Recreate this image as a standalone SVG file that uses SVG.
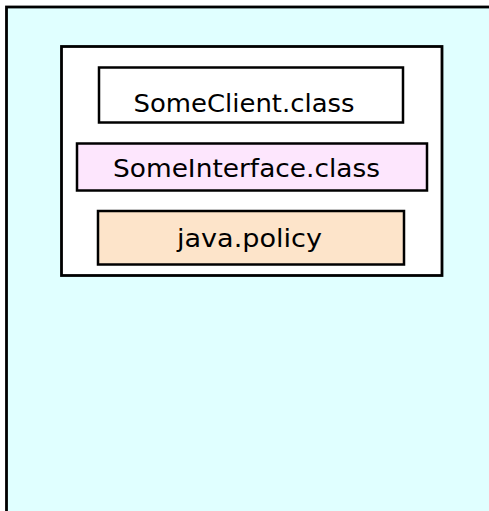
<svg xmlns="http://www.w3.org/2000/svg" width="489" height="511" viewBox="0 0 489 511">
  <style>
    .frame { stroke: #000; stroke-width: 2.8; }
    .box { stroke: #000; stroke-width: 2.5; }
    .label { font-family: "DejaVu Sans", "Liberation Sans", sans-serif; font-size: 24px; fill: #000; text-anchor: middle; }
  </style>
  <rect width="489" height="511" fill="#ffffff"/>
  <!-- outer host area -->
  <g id="host">
    <rect class="frame" x="6.5" y="7" width="500" height="520" fill="#e0ffff"/>
  </g>
  <!-- client package -->
  <g id="package">
    <rect class="frame" x="61.5" y="46.5" width="380.5" height="229" fill="#ffffff"/>
  </g>
  <g id="someclient">
    <rect class="box" x="99" y="67.5" width="304" height="55" fill="#ffffff"/>
    <text class="label" x="244" y="112" textLength="221" lengthAdjust="spacingAndGlyphs">SomeClient.class</text>
  </g>
  <g id="someinterface">
    <rect class="box" x="77" y="143.5" width="350" height="47" fill="#fde6fd"/>
    <text class="label" x="246.5" y="177" textLength="267" lengthAdjust="spacingAndGlyphs">SomeInterface.class</text>
  </g>
  <g id="javapolicy">
    <rect class="box" x="98" y="211" width="306" height="53.5" fill="#fde4ca"/>
    <text class="label" x="249.5" y="247" textLength="145" lengthAdjust="spacingAndGlyphs">java.policy</text>
  </g>
  <g id="connectors"/>
</svg>
